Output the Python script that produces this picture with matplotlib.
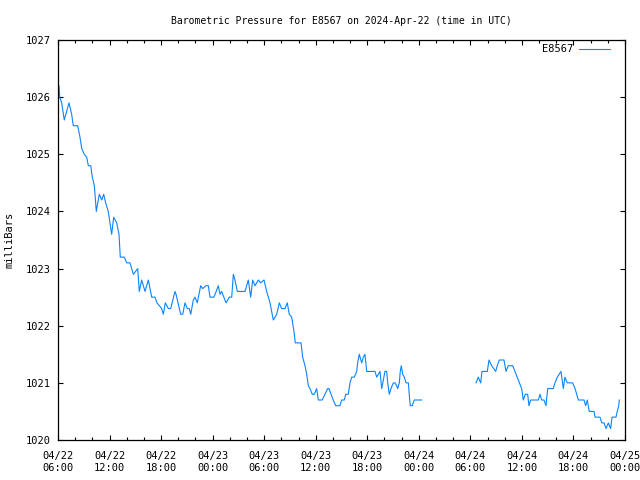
import matplotlib
matplotlib.use("Agg")
import matplotlib.pyplot as plt
import numpy as np

# hours since 2024-04-22 06:00 UTC, pressure in mbar
hours_a = [0.0, 0.12, 0.2, 0.43, 0.73, 1.28, 1.59, 1.78, 2.29, 2.56, 2.76, 3.06,
           3.34, 3.53, 3.81, 3.99, 4.23, 4.46, 4.57, 4.81, 5.09, 5.32, 5.55, 5.85,
           6.05, 6.25, 6.48, 6.83, 7.1, 7.25, 7.72, 8.0, 8.38, 8.77, 9.28, 9.46,
           9.74, 10.13, 10.51, 10.91, 11.29, 11.52, 12.07, 12.26, 12.49, 12.84,
           13.12, 13.62, 13.74, 14.28, 14.52, 14.78, 15.05, 15.28, 15.45, 15.75,
           15.95, 16.21, 16.61, 16.84, 17.23, 17.5, 17.69, 18.16, 18.66, 18.86,
           19.05, 19.56, 19.94, 20.22, 20.41, 20.6, 20.87, 21.77, 22.15, 22.43,
           22.66, 22.93, 23.32, 23.59, 23.98, 24.29, 24.68, 25.06, 25.46, 25.76,
           26.04, 26.42, 26.69, 26.92, 27.2, 27.47, 27.62, 28.29, 28.48, 28.75,
           28.95, 29.14, 29.33, 29.6, 29.83, 30.11, 30.3, 30.76, 31.08, 31.39,
           31.54, 31.78, 32.04, 32.32, 32.82, 33.02, 33.33, 33.49, 33.79, 33.99,
           34.19, 34.49, 34.77, 34.88, 35.07, 35.35, 35.54, 35.73, 35.93, 36.9,
           37.1, 37.48, 37.68, 37.87, 38.06, 38.26, 38.38, 38.56, 38.76, 39.03,
           39.23, 39.42, 39.54, 39.73, 39.84, 39.96, 40.12, 40.31, 40.51, 40.78,
           40.94, 41.01, 41.24, 41.47, 42.34]
press_a = [1026.2, 1026.2, 1026.0, 1025.9, 1025.6, 1025.9, 1025.7, 1025.5, 1025.5,
           1025.3, 1025.1, 1025.0, 1024.95, 1024.8, 1024.8, 1024.6, 1024.45, 1024.0,
           1024.1, 1024.3, 1024.2, 1024.3, 1024.15, 1024.0, 1023.8, 1023.6, 1023.9,
           1023.8, 1023.6, 1023.2, 1023.2, 1023.1, 1023.1, 1022.9, 1023.0, 1022.6,
           1022.8, 1022.6, 1022.8, 1022.5, 1022.5, 1022.4, 1022.3, 1022.2, 1022.4,
           1022.3, 1022.3, 1022.6, 1022.55, 1022.2, 1022.2, 1022.4, 1022.3, 1022.3,
           1022.2, 1022.45, 1022.5, 1022.4, 1022.7, 1022.65, 1022.7, 1022.7, 1022.5,
           1022.5, 1022.7, 1022.55, 1022.6, 1022.4, 1022.5, 1022.5, 1022.9, 1022.8,
           1022.6, 1022.6, 1022.8, 1022.5, 1022.8, 1022.7, 1022.8, 1022.75, 1022.8,
           1022.6, 1022.4, 1022.1, 1022.2, 1022.4, 1022.3, 1022.3, 1022.4, 1022.2,
           1022.15, 1021.9, 1021.7, 1021.7, 1021.45, 1021.3, 1021.15, 1020.95,
           1020.9, 1020.8, 1020.8, 1020.9, 1020.7, 1020.7, 1020.8, 1020.9, 1020.9,
           1020.8, 1020.7, 1020.6, 1020.6, 1020.7, 1020.7, 1020.8, 1020.8, 1021.0,
           1021.1, 1021.1, 1021.2, 1021.35, 1021.5, 1021.35, 1021.45, 1021.5, 1021.2,
           1021.2, 1021.1, 1021.2, 1020.9, 1021.05, 1021.2, 1021.2, 1021.0, 1020.8,
           1020.9, 1021.0, 1021.0, 1020.95, 1020.9, 1021.0, 1021.2, 1021.3, 1021.15,
           1021.1, 1021.0, 1021.0, 1020.7, 1020.6, 1020.6, 1020.7, 1020.7]

hours_b = [48.66, 48.92, 49.2, 49.35, 49.97, 50.17, 50.48, 50.95, 51.13, 51.37,
           51.91, 52.15, 52.41, 52.93, 53.19, 53.46, 53.7, 53.97, 54.16, 54.39,
           54.67, 54.82, 55.02, 55.91, 56.1, 56.3, 56.57, 56.8, 57.0, 57.65, 57.85,
           58.12, 58.55, 58.82, 59.01, 59.28, 59.91, 60.18, 60.38, 60.56, 61.23,
           61.42, 61.61, 61.84, 62.39, 62.51, 63.09, 63.29, 63.56, 63.79, 64.06,
           64.33, 64.49, 64.95, 65.1, 65.27, 65.34]
press_b = [1021.0, 1021.1, 1021.0, 1021.2, 1021.2, 1021.4, 1021.3, 1021.2, 1021.3,
           1021.4, 1021.4, 1021.2, 1021.3, 1021.3, 1021.2, 1021.1, 1021.0, 1020.9,
           1020.7, 1020.8, 1020.8, 1020.6, 1020.7, 1020.7, 1020.8, 1020.7, 1020.7,
           1020.6, 1020.9, 1020.9, 1021.0, 1021.1, 1021.2, 1020.9, 1021.1, 1021.0,
           1021.0, 1020.9, 1020.8, 1020.7, 1020.7, 1020.6, 1020.7, 1020.5, 1020.5,
           1020.4, 1020.4, 1020.3, 1020.3, 1020.2, 1020.3, 1020.2, 1020.4, 1020.4,
           1020.5, 1020.6, 1020.7]

tick_hours = list(range(0, 67, 6))
tick_labels = ["04/22\n06:00", "04/22\n12:00", "04/22\n18:00", "04/23\n00:00",
               "04/23\n06:00", "04/23\n12:00", "04/23\n18:00", "04/24\n00:00",
               "04/24\n06:00", "04/24\n12:00", "04/24\n18:00", "04/25\n00:00"]
y_ticks = [1020, 1021, 1022, 1023, 1024, 1025, 1026, 1027]

plt.rcParams["font.family"] = "DejaVu Sans Mono"
plt.rcParams["font.size"] = 7.5

fig = plt.figure(figsize=(6.4, 4.8), dpi=100)
ax = fig.add_axes([58 / 640, 1 - 440 / 480, 567 / 640, 400 / 480])

# NaN between the two pieces leaves the data gap
hours = hours_a + [np.nan] + hours_b
press = press_a + [np.nan] + press_b
ax.plot(hours, press, color="#0a84ff", linewidth=0.8, label="E8567")

ax.set_xlim(0, 66)
ax.set_ylim(1020, 1027)
ax.set_xticks(tick_hours)
ax.set_xticklabels(tick_labels)
ax.set_xticks([h for h in range(0, 67, 2) if h % 6], minor=True)
ax.set_yticks(y_ticks)
ax.tick_params(which="major", direction="in", length=3.6, width=0.8,
               top=True, right=True)
ax.tick_params(axis="x", which="major", pad=8)
ax.tick_params(axis="y", which="major", pad=5)
ax.tick_params(which="minor", direction="in", length=2.0, width=0.8,
               top=True, bottom=True)
for s in ax.spines.values():
    s.set_linewidth(0.9)

ax.set_ylabel("milliBars", labelpad=8)
ax.set_title("Barometric Pressure for E8567 on 2024-Apr-22 (time in UTC)",
             fontsize=7, pad=11.5)
ax.legend(loc="upper right", frameon=False, markerfirst=False,
          handlelength=3.0, handletextpad=0.5, borderaxespad=0,
          bbox_to_anchor=(1 - 11 / 567, 1.0))

fig.savefig("out.png", dpi=100)
